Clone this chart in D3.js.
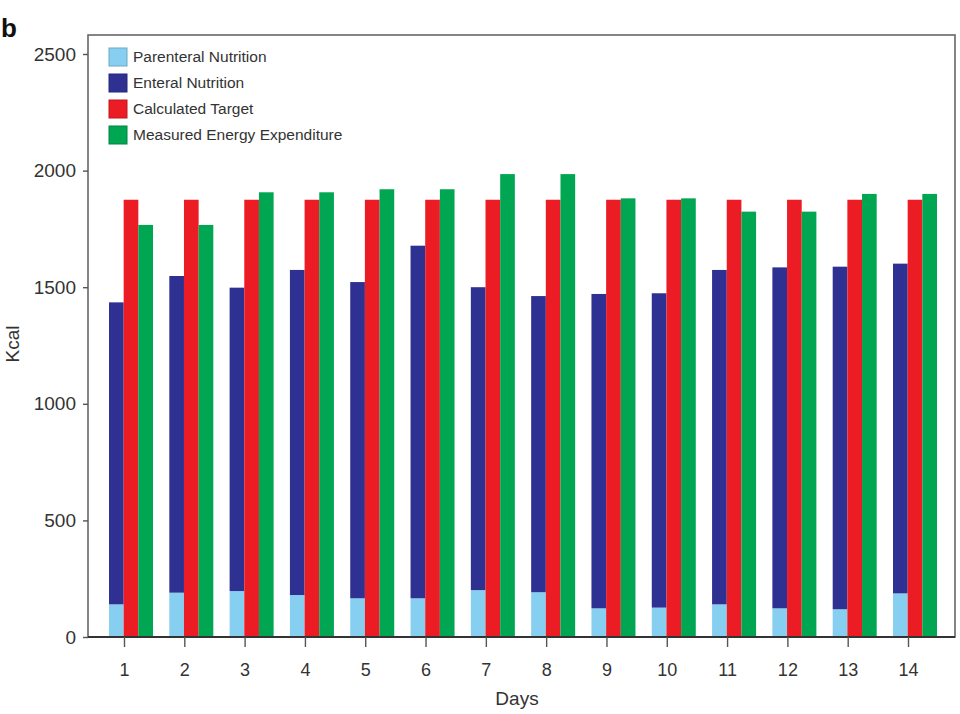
<!DOCTYPE html>
<html>
<head>
<meta charset="utf-8">
<script src="https://cdn.jsdelivr.net/npm/d3@7/dist/d3.min.js"></script>
<style>
  body { margin: 0; background: #fff; }
  text { font-family: "Liberation Sans", Arial, sans-serif; }
</style>
</head>
<body>
<svg id="chart" width="960" height="714"></svg>
<script>
// Daily energy delivery vs. target and measured expenditure (kcal)
const days = [1, 2, 3, 4, 5, 6, 7, 8, 9, 10, 11, 12, 13, 14];
const parenteral = [140, 190, 197, 180, 166, 166, 201, 192, 123, 126, 140, 123, 119, 187];
const enteral = [1295, 1358, 1301, 1394, 1356, 1512, 1299, 1270, 1348, 1348, 1434, 1462, 1469, 1414];
const calculatedTarget = [1875, 1875, 1875, 1875, 1875, 1875, 1875, 1875, 1875, 1875, 1875, 1875, 1875, 1875];
const measuredEE = [1767, 1767, 1907, 1907, 1920, 1920, 1985, 1985, 1881, 1881, 1824, 1824, 1900, 1900];
const yTicks = [0, 500, 1000, 1500, 2000, 2500];

const seriesNames = ["Parenteral Nutrition", "Enteral Nutrition", "Calculated Target", "Measured Energy Expenditure"];
const seriesColors = ["#86cff0", "#2e3192", "#ec1c24", "#00a651"];

const svg = d3.select("#chart");
svg.append("rect").attr("width", 960).attr("height", 714).attr("fill", "#fff");

const frame = { left: 88, top: 35, right: 955, bottom: 637 };

const y = d3.scaleLinear().domain([0, 2500]).range([637, 54]);
const x = d3.scalePoint().domain(days).range([124, 908]);
// three bar slots per day: nutrition stack, target, measured
const slot = d3.scaleBand().domain([0, 1, 2]).range([-15, 29]);

// bar data
const bars = [];
days.forEach((d, i) => {
  const pn = parenteral[i], en = enteral[i];
  bars.push({ day: d, slot: 0, y0: 0, y1: pn, color: seriesColors[0] });
  bars.push({ day: d, slot: 0, y0: pn, y1: pn + en, color: seriesColors[1] });
  bars.push({ day: d, slot: 1, y0: 0, y1: calculatedTarget[i], color: seriesColors[2] });
  bars.push({ day: d, slot: 2, y0: 0, y1: measuredEE[i], color: seriesColors[3] });
});

svg.append("g").selectAll("rect").data(bars).join("rect")
  .attr("x", d => x(d.day) + slot(d.slot))
  .attr("width", slot.bandwidth())
  .attr("y", d => y(d.y1))
  .attr("height", d => y(d.y0) - y(d.y1))
  .attr("fill", d => d.color);

// plot frame
svg.append("rect")
  .attr("x", frame.left).attr("y", frame.top)
  .attr("width", frame.right - frame.left).attr("height", frame.bottom - frame.top)
  .attr("fill", "none").attr("stroke", "#666").attr("stroke-width", 1.6);

// y axis
const yAxis = svg.append("g")
  .attr("transform", `translate(${frame.left},0)`)
  .call(d3.axisLeft(y).tickValues(yTicks).tickSize(5).tickPadding(7).tickFormat(d3.format("d")));
yAxis.select(".domain").remove();
yAxis.selectAll(".tick line").attr("stroke", "#555").attr("stroke-width", 1.4);
yAxis.selectAll(".tick text").attr("font-size", 19).attr("fill", "#333")
  .style("font-family", "'Liberation Sans', Arial, sans-serif");

// x axis
const xAxis = svg.append("g")
  .attr("transform", `translate(0,${frame.bottom})`)
  .call(d3.axisBottom(x).tickSize(10).tickPadding(16));
xAxis.select(".domain").attr("stroke", "#333").attr("stroke-width", 1.8)
  .attr("d", `M${frame.left},0H${frame.right}`);
xAxis.selectAll(".tick line").attr("stroke", "#555").attr("stroke-width", 1.4);
xAxis.selectAll(".tick text").attr("font-size", 18).attr("fill", "#333")
  .style("font-family", "'Liberation Sans', Arial, sans-serif");

// axis titles
svg.append("text")
  .attr("x", 517).attr("y", 705)
  .attr("text-anchor", "middle").attr("font-size", 19).attr("fill", "#333")
  .text("Days");
svg.append("text")
  .attr("transform", "translate(19,344) rotate(-90)")
  .attr("text-anchor", "middle").attr("font-size", 19).attr("fill", "#333")
  .text("Kcal");

// panel letter
svg.append("text")
  .attr("x", 1).attr("y", 37)
  .attr("font-size", 26).attr("font-weight", "bold").attr("fill", "#111")
  .text("b");

// legend
const legendRows = [57, 83, 109, 135];
const legend = svg.append("g");
seriesNames.forEach((name, i) => {
  const g = legend.append("g").attr("transform", `translate(109,${legendRows[i]})`);
  g.append("rect")
    .attr("x", 0).attr("y", -9).attr("width", 18).attr("height", 18)
    .attr("fill", seriesColors[i])
    .attr("stroke", d3.color(seriesColors[i]).darker(0.6)).attr("stroke-width", 1);
  g.append("text")
    .attr("x", 24).attr("y", 5)
    .attr("font-size", 15.5).attr("fill", "#333")
    .text(name);
});
</script>
</body>
</html>
